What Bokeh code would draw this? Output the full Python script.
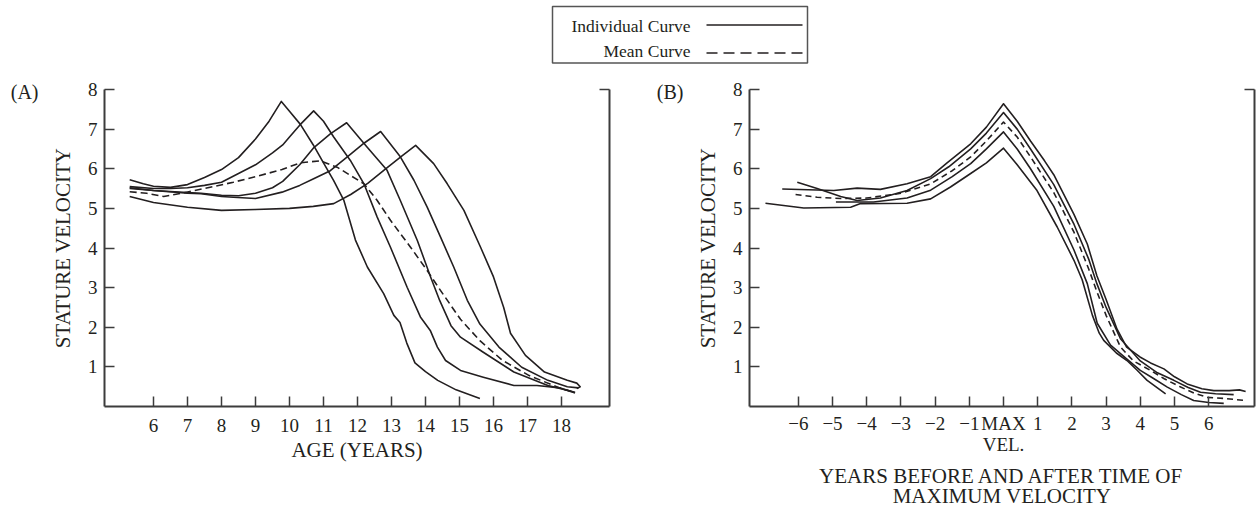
from bokeh.plotting import figure
from bokeh.models import Range1d, LinearAxis, FixedTicker
from bokeh.core.properties import value
from bokeh.layouts import column, row
from bokeh.embed import file_html
from bokeh.resources import INLINE

FONT = "Liberation Serif"
INK = "#231f20"
AXC = "#3c3c3c"

# ---------------- data: panel (A) ----------------
a_age_1 = [5.3, 5.7, 6.0, 6.5, 7.0, 7.5, 8.0, 8.5, 9.0, 9.4, 9.76, 10.0, 10.32, 10.7, 11.0, 11.3, 11.6, 11.94,
           12.29, 12.77, 13.07, 13.25, 13.45, 13.69, 14.0, 14.36, 14.9, 15.6]
a_vel_1 = [5.72, 5.62, 5.56, 5.53, 5.6, 5.78, 5.98, 6.28, 6.75, 7.2, 7.7, 7.45, 7.12, 6.6, 6.15, 5.7, 5.2, 4.2,
           3.52, 2.85, 2.3, 2.12, 1.6, 1.1, 0.88, 0.66, 0.42, 0.2]
a_age_2 = [5.3, 6.0, 6.5, 7.0, 7.5, 8.0, 8.5, 9.0, 9.5, 9.8, 10.0, 10.3, 10.71, 11.0, 11.3, 11.79, 12.19, 12.58,
           12.97, 13.46, 13.85, 14.14, 14.35, 14.59, 15.03, 15.7, 16.6, 17.28, 17.95, 18.4]
a_vel_2 = [5.55, 5.5, 5.5, 5.52, 5.58, 5.66, 5.88, 6.1, 6.4, 6.6, 6.8, 7.1, 7.46, 7.2, 6.8, 6.21, 5.62, 4.78,
           4.02, 3.01, 2.26, 1.92, 1.5, 1.16, 0.91, 0.74, 0.53, 0.53, 0.47, 0.34]
a_age_3 = [5.3, 6.0, 7.0, 7.4, 8.0, 8.5, 9.0, 9.5, 9.8, 10.3, 10.7, 11.2, 11.68, 12.28, 12.87, 13.26, 13.76,
           14.15, 14.42, 14.75, 15.03, 15.7, 16.6, 17.6, 18.4]
a_vel_3 = [5.5, 5.45, 5.4, 5.38, 5.33, 5.32, 5.38, 5.52, 5.68, 6.1, 6.52, 6.88, 7.16, 6.55, 5.96, 5.2, 4.19,
           3.27, 2.67, 2.04, 1.75, 1.37, 0.87, 0.53, 0.36]
a_age_4 = [5.3, 6.0, 7.0, 7.4, 8.0, 8.35, 9.0, 9.78, 10.3, 10.71, 11.2, 11.7, 12.2, 12.68, 13.26, 13.66, 14.05,
           14.44, 14.83, 15.23, 15.6, 16.16, 16.83, 17.6, 18.17, 18.5]
a_vel_4 = [5.52, 5.45, 5.38, 5.37, 5.3, 5.28, 5.25, 5.41, 5.58, 5.75, 5.95, 6.3, 6.65, 6.94, 6.3, 5.71, 5.03,
           4.28, 3.52, 2.68, 2.08, 1.5, 0.99, 0.66, 0.5, 0.47]
a_age_5 = [5.3, 6.0, 7.0, 8.0, 9.0, 10.0, 10.7, 11.3, 11.8, 12.3, 12.8, 13.3, 13.71, 14.24, 14.64, 15.13, 15.62,
           16.0, 16.3, 16.5, 16.94, 17.5, 18.17, 18.45, 18.55, 18.45]
a_vel_5 = [5.3, 5.15, 5.03, 4.95, 4.97, 5.0, 5.05, 5.12, 5.35, 5.63, 5.98, 6.32, 6.59, 6.13, 5.62, 4.95, 4.02,
           3.27, 2.5, 1.85, 1.29, 0.87, 0.66, 0.59, 0.5, 0.45]
a_age_mean = [5.3, 5.8, 6.3, 7.0, 7.7, 8.35, 9.0, 9.78, 10.32, 10.91, 11.4, 12.19, 12.58, 12.97, 13.56, 14.05,
              14.44, 15.03, 15.6, 16.27, 17.05, 18.0, 18.4]
a_vel_mean = [5.42, 5.38, 5.3, 5.41, 5.54, 5.66, 5.8, 5.98, 6.15, 6.2, 6.04, 5.62, 5.2, 4.7, 4.02, 3.43,
              2.93, 2.2, 1.66, 1.16, 0.78, 0.45, 0.36]

a_ticks_x = [6, 7, 8, 9, 10, 11, 12, 13, 14, 15, 16, 17, 18]
ticks_y = [1, 2, 3, 4, 5, 6, 7, 8]

# ---------------- data: panel (B) ----------------
b_t_1 = [-6.47, -4.96, -4.28, -3.6, -2.82, -2.13, -1.65, -0.96, -0.5, 0, 0.4, 0.79, 1.2, 1.47, 2.06, 2.45, 2.73,
         3.0, 3.32, 3.6, 3.99, 4.3, 4.69, 5.0, 5.37, 5.8, 6.15, 6.6, 6.9, 7.08]
b_v_1 = [5.49, 5.45, 5.51, 5.48, 5.62, 5.8, 6.15, 6.63, 7.05, 7.64, 7.2, 6.7, 6.2, 5.85, 4.85, 4.1, 3.3,
         2.7, 1.95, 1.5, 1.25, 1.1, 0.95, 0.75, 0.57, 0.45, 0.4, 0.4, 0.42, 0.38]
b_t_2 = [-6.03, -5.45, -4.76, -4.28, -3.6, -2.82, -2.13, -1.6, -0.96, -0.5, 0, 0.4, 0.79, 1.47, 2.06, 2.5, 2.73,
         3.0, 3.42, 4.0, 4.5, 4.98, 5.4, 5.76, 6.2, 6.73]
b_v_2 = [5.66, 5.5, 5.3, 5.2, 5.26, 5.45, 5.75, 6.05, 6.5, 6.9, 7.42, 7.0, 6.5, 5.6, 4.6, 3.7, 3.1,
         2.5, 1.71, 1.15, 0.85, 0.66, 0.48, 0.36, 0.32, 0.3]
b_t_3 = [-4.9, -3.8, -2.82, -2.13, -1.5, -0.96, -0.5, 0, 0.4, 0.79, 1.47, 2.06, 2.45, 2.74, 3.13, 3.6, 4.0,
         4.4, 4.79, 5.2, 5.56, 6.0, 6.44]
b_v_3 = [5.16, 5.16, 5.26, 5.46, 5.8, 6.13, 6.5, 6.93, 6.5, 6.0, 5.05, 3.95, 3.1, 2.1, 1.55, 1.2, 0.91,
         0.7, 0.49, 0.3, 0.15, 0.1, 0.08]
b_t_4 = [-6.96, -5.84, -4.47, -4.18, -2.82, -2.13, -1.55, -0.96, -0.5, 0, 0.4, 0.98, 1.57, 2.06, 2.3, 2.6, 2.8,
         2.93, 3.3, 3.61, 3.9, 4.2, 4.5, 4.74]
b_v_4 = [5.13, 5.01, 5.03, 5.12, 5.13, 5.24, 5.54, 5.88, 6.15, 6.52, 6.1, 5.45, 4.53, 3.69, 3.2, 2.3, 1.85,
         1.67, 1.35, 1.16, 0.92, 0.66, 0.47, 0.32]
b_t_mean = [-6.08, -5.45, -4.76, -4.0, -3.0, -2.13, -1.5, -0.96, -0.5, 0, 0.4, 0.79, 1.47, 2.06, 2.5, 2.73, 3.0,
            3.42, 3.8, 4.3, 4.7, 5.18, 5.6, 5.96, 6.5, 7.08]
b_v_mean = [5.35, 5.28, 5.25, 5.26, 5.38, 5.62, 5.95, 6.3, 6.7, 7.18, 6.8, 6.3, 5.4, 4.4, 3.45, 2.9, 2.3,
            1.5, 1.15, 0.91, 0.7, 0.49, 0.33, 0.23, 0.2, 0.15]

b_ticks_x = [-6, -5, -4, -3, -2, -1, 0, 1, 2, 3, 4, 5, 6]
b_tick_labels = ["\u22126", "\u22125", "\u22124", "\u22123", "\u22122", "\u22121", "MAX\nVEL.",
                 "1", "2", "3", "4", "5", "6"]

legend_labels = ["Individual Curve", "Mean Curve"]
panel_tags = ["(A)", "(B)"]


def style_axes(p, xticks, yticks, tag):
    p.grid.visible = False
    p.outline_line_color = None
    p.background_fill_color = "white"
    p.border_fill_color = "white"
    for ax in (p.xaxis[0], p.yaxis[0]):
        ax.axis_line_width = 2
        ax.axis_line_color = AXC
        ax.major_tick_line_color = AXC
        ax.major_tick_line_width = 1.5
        ax.major_tick_in = 10
        ax.major_tick_out = 0
        ax.minor_tick_line_color = None
        ax.major_label_text_font = FONT
        ax.major_label_text_font_size = "19px"
        ax.major_label_text_color = INK
        ax.axis_label_text_font = FONT
        ax.axis_label_text_font_size = "21px"
        ax.axis_label_text_font_style = "normal"
        ax.axis_label_text_color = INK
    p.xaxis[0].ticker = FixedTicker(ticks=xticks)
    p.yaxis[0].ticker = FixedTicker(ticks=yticks)
    p.yaxis[0].major_label_standoff = 7
    p.yaxis[0].axis_label = "STATURE VELOCITY"
    p.yaxis[0].axis_label_standoff = 10
    # right spine with a single inward tick at the top
    ra = LinearAxis(ticker=FixedTicker(ticks=[8]), major_label_overrides={8: ""},
                    axis_line_width=2, axis_line_color=AXC, major_tick_line_color=AXC,
                    major_tick_line_width=1.5, major_tick_in=10, major_tick_out=0,
                    minor_tick_line_color=None, major_label_standoff=0)
    p.add_layout(ra, "right")
    # panel tag "(A)" / "(B)" drawn as the single label of an outer, line-less axis
    ta = LinearAxis(ticker=FixedTicker(ticks=[7.93]), major_label_overrides={7.93: tag},
                    axis_line_color=None, major_tick_line_color=None, minor_tick_line_color=None,
                    major_label_standoff=3, major_label_text_font=FONT,
                    major_label_text_font_size="20px", major_label_text_color=INK)
    p.add_layout(ta, "left")


def curve(p, xs, ys, dash="solid"):
    p.line(xs, ys, line_color=INK, line_width=1.6, line_dash=dash, line_join="round")


# ---------------- legend strip ----------------
leg = figure(width=1256, height=72, x_range=Range1d(0, 1256), y_range=Range1d(72, 0),
             x_axis_type=None, y_axis_type=None, min_border=0, output_backend="svg",
             toolbar_location=None, outline_line_color=None)
leg.grid.visible = False
leg.quad(left=[552], right=[807], top=[6], bottom=[62.5], fill_color=None,
         line_color="#555555", line_width=1.5)
leg.line([706, 802], [24.5, 24.5], line_color=INK, line_width=1.6)
leg.line([706, 802], [52.5, 52.5], line_color=INK, line_width=1.6, line_dash="11 6")
leg.text(x=[690, 690], y=[25, 50.5], text=legend_labels, text_align="right",
         text_baseline="middle", text_font=value(FONT), text_font_size="17.5px", text_color=INK)

# ---------------- panel A ----------------
fa = figure(width=640, height=440, x_range=Range1d(4.559, 19.412), y_range=Range1d(0, 8),
            min_border_left=104, min_border_right=31, min_border_top=17, min_border_bottom=106,
            output_backend="svg", toolbar_location=None)
style_axes(fa, a_ticks_x, ticks_y, panel_tags[0])
fa.xaxis[0].major_label_standoff = 12
fa.xaxis[0].axis_label = "AGE (YEARS)"
fa.xaxis[0].axis_label_standoff = 3
for xs, ys in [(a_age_1, a_vel_1), (a_age_2, a_vel_2), (a_age_3, a_vel_3),
               (a_age_4, a_vel_4), (a_age_5, a_vel_5)]:
    curve(fa, xs, ys)
curve(fa, a_age_mean, a_vel_mean, "7 4")

# ---------------- panel B ----------------
fb = figure(width=616, height=440, x_range=Range1d(-7.427, 7.339), y_range=Range1d(0, 8),
            min_border_left=109, min_border_right=2, min_border_top=17, min_border_bottom=106,
            output_backend="svg", toolbar_location=None)
style_axes(fb, b_ticks_x, ticks_y, panel_tags[1])
fb.xaxis[0].major_label_overrides = {t: s for t, s in zip(b_ticks_x, b_tick_labels)}
fb.xaxis[0].major_label_standoff = 6
fb.xaxis[0].major_label_text_line_height = 1.0
fb.xaxis[0].axis_label = "YEARS BEFORE AND AFTER TIME OF\nMAXIMUM VELOCITY"
fb.xaxis[0].axis_label_standoff = 6
fb.xaxis[0].axis_label_text_line_height = 0.85
for xs, ys in [(b_t_1, b_v_1), (b_t_2, b_v_2), (b_t_3, b_v_3), (b_t_4, b_v_4)]:
    curve(fb, xs, ys)
curve(fb, b_t_mean, b_v_mean, "6 4")

layout = column(leg, row(fa, fb))
open("out.html", "w").write(file_html(layout, INLINE))
